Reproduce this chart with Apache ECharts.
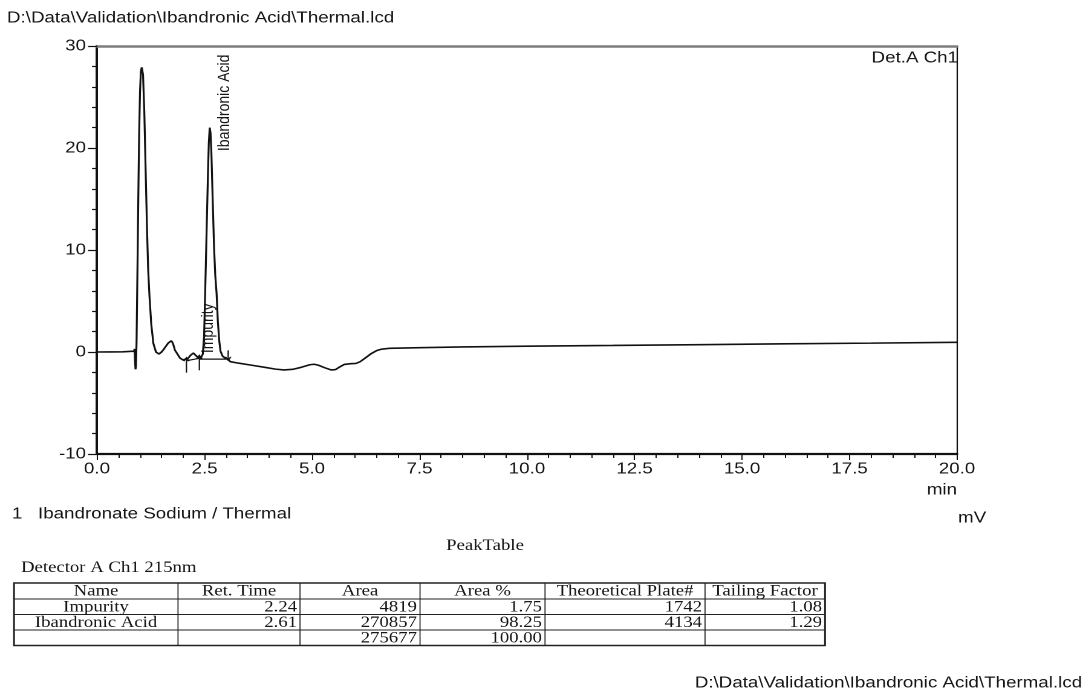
<!DOCTYPE html>
<html>
<head>
<meta charset="utf-8">
<title>Ibandronic Acid - Thermal</title>
<script src="https://cdn.jsdelivr.net/npm/echarts/dist/echarts.min.js"></script>
<style>
  html, body { margin: 0; padding: 0; background: #fff; overflow: hidden; }
  /* the report page is laid out on a narrower sheet and widened horizontally */
  #page { width: 898px; height: 698px; transform: scaleX(1.2094); transform-origin: 0 0; }
</style>
</head>
<body>
<div id="page"></div>
<script>
// ---- chromatogram (time in min, signal in mV) ----
const chromatogram = [
  [0.00, 0.00], [0.30, 0.01], [0.60, 0.02], [0.86, 0.08], [0.875, 0.30], [0.885, -1.00],
  [0.895, -1.70], [0.905, -1.40], [0.92, 1.00], [0.94, 8.00], [0.96, 15.00], [0.98, 21.50],
  [1.00, 25.50], [1.02, 27.50], [1.04, 27.90], [1.07, 27.20], [1.10, 23.50], [1.13, 18.00],
  [1.16, 12.50], [1.19, 8.00], [1.22, 5.50], [1.26, 2.80], [1.31, 0.85], [1.37, 0.00],
  [1.44, -0.20], [1.50, 0.00], [1.54, 0.20], [1.60, 0.55], [1.66, 0.90], [1.73, 1.10],
  [1.77, 0.80], [1.81, 0.20], [1.87, -0.20], [1.93, -0.60], [2.00, -0.78], [2.05, -0.85],
  [2.12, -0.60], [2.18, -0.30], [2.24, -0.10], [2.30, -0.35], [2.36, -0.60], [2.42, -0.55],
  [2.46, -0.20], [2.49, 1.50], [2.51, 5.00], [2.53, 8.50], [2.555, 13.00], [2.58, 17.50],
  [2.60, 20.50], [2.62, 22.00], [2.64, 21.50], [2.66, 19.50], [2.69, 15.00], [2.72, 10.50],
  [2.75, 7.50], [2.78, 5.80], [2.81, 3.00], [2.84, 1.20], [2.87, 0.10], [2.92, -0.40],
  [2.98, -0.60], [3.05, -0.72], [3.10, -0.95], [3.30, -1.10], [3.60, -1.30], [3.90, -1.50],
  [4.15, -1.68], [4.35, -1.76], [4.55, -1.70], [4.75, -1.50], [4.95, -1.25], [5.05, -1.20],
  [5.15, -1.30], [5.30, -1.55], [5.45, -1.76], [5.55, -1.72], [5.65, -1.45], [5.75, -1.22],
  [5.90, -1.15], [6.02, -1.12], [6.12, -0.95], [6.25, -0.55], [6.38, -0.15], [6.50, 0.13],
  [6.62, 0.28], [6.80, 0.36], [7.50, 0.42], [8.50, 0.50], [10.00, 0.57], [12.00, 0.64],
  [14.00, 0.72], [16.00, 0.80], [18.00, 0.87], [20.00, 0.95]
];

// ---- peak identification ----
const peakNames     = ['Impurity', 'Ibandronic Acid'];
const peakRetTimes  = [2.24, 2.61];
const peakAreas     = [4819, 270857];
const peakAreaPct   = ['1.75', '98.25'];
const peakPlates    = [1742, 4134];
const peakTailing   = ['1.08', '1.29'];
const totalArea     = 275677;
const totalAreaPct  = '100.00';

// integration events: [time, level, kind]  kind 1 = peak start, -1 = peak end
const integrationMarks = [[2.08, -0.85, 1], [2.38, -0.62, 1], [3.05, -0.72, -1]];
// drawn baselines: [t1, v1, t2, v2]
const baselineSegments = [[2.08, -0.85, 2.38, -0.62], [2.38, -0.70, 3.05, -0.70]];

// ---- axes ----
const timeMin = 0, timeMax = 20, timeStep = 2.5;
const mvMin = -10, mvMax = 30, mvStep = 10;

// ---- table text ----
const tableHeader = ['Name', 'Ret. Time', 'Area', 'Area %', 'Theoretical Plate#', 'Tailing Factor'];

const SX = 1086 / 898;               // horizontal widening of the page
const sx = x => x / SX;              // page x -> drawing x
const SANS = '"Liberation Sans", Arial, sans-serif';
const SERIF = '"Liberation Serif", "Times New Roman", serif';
const INK = '#151515';
const LABEL_LAG = 0.05;              // peak names sit on the trace just after the retention time

function signalAt(t) {
  for (let i = 1; i < chromatogram.length; i++) {
    const a = chromatogram[i - 1], b = chromatogram[i];
    if (t <= b[0]) return a[1] + (b[1] - a[1]) * (t - a[0]) / (b[0] - a[0]);
  }
  return chromatogram[chromatogram.length - 1][1];
}

// ---- peak table graphics ----
function buildTable() {
  const cols = [14, 178, 300, 420, 545, 705, 825].map(sx);
  const rows = [583, 599, 614.5, 630, 645.5];
  const body = peakNames.map((n, i) => [n, peakRetTimes[i].toFixed(2), String(peakAreas[i]),
    peakAreaPct[i], String(peakPlates[i]), peakTailing[i]]);
  body.push(['', '', String(totalArea), totalAreaPct, '', '']);
  const els = [];
  els.push({ type: 'rect', shape: { x: cols[0], y: rows[0], width: cols[6] - cols[0], height: rows[4] - rows[0] },
    style: { fill: null, stroke: '#222', lineWidth: 1.5 } });
  for (let r = 1; r < rows.length - 1; r++) {
    els.push({ type: 'line', shape: { x1: cols[0], y1: rows[r], x2: cols[6], y2: rows[r] },
      style: { stroke: '#222', lineWidth: 1 } });
  }
  for (let c = 1; c < cols.length - 1; c++) {
    els.push({ type: 'line', shape: { x1: cols[c], y1: rows[0], x2: cols[c], y2: rows[4] },
      style: { stroke: '#222', lineWidth: 0.9 } });
  }
  const cell = (txt, c, r, align) => ({
    type: 'text',
    x: align === 'center' ? (cols[c] + cols[c + 1]) / 2 : cols[c + 1] - sx(3),
    y: (rows[r] + rows[r + 1]) / 2 + 0.5,
    style: { text: txt, font: '15.5px ' + SERIF, fill: INK, align: align, verticalAlign: 'middle' }
  });
  tableHeader.forEach((h, c) => els.push(cell(h, c, 0, 'center')));
  body.forEach((row, r) => row.forEach((v, c) => {
    if (v !== '') els.push(cell(v, c, r + 1, c === 0 ? 'center' : 'right'));
  }));
  return els;
}

const textEl = (text, x, y, align, font) => ({
  type: 'text', x: x, y: y,
  style: { text: text, font: font || ('15.5px ' + SANS), fill: INK, align: align || 'left', verticalAlign: 'middle' }
});

const chart = echarts.init(document.getElementById('page'), null, { renderer: 'canvas', devicePixelRatio: 2 });

const option = {
  animation: false,
  backgroundColor: '#ffffff',
  grid: { left: sx(97), right: 898 - sx(957), top: 46, bottom: 244, containLabel: false },
  xAxis: [{
    type: 'value', min: timeMin, max: timeMax, interval: timeStep,
    axisLine: { show: true, onZero: false, lineStyle: { color: '#111', width: 2.2 } },
    axisTick: { show: true, length: 6, lineStyle: { color: '#111', width: 1 } },
    minorTick: { show: true, splitNumber: 5, length: 4, lineStyle: { color: '#111', width: 1 } },
    axisLabel: { show: true, formatter: v => v.toFixed(1), fontSize: 15.5, fontFamily: SANS, color: INK, margin: 7 },
    splitLine: { show: false }, minorSplitLine: { show: false }
  }, {
    type: 'value', position: 'top', min: timeMin, max: timeMax,
    axisLine: { show: true, onZero: false, lineStyle: { color: '#7d7d7d', width: 2.5 } },
    axisTick: { show: false }, axisLabel: { show: false }, splitLine: { show: false }
  }],
  yAxis: [{
    type: 'value', min: mvMin, max: mvMax, interval: mvStep,
    axisLine: { show: true, onZero: false, lineStyle: { color: '#111', width: 2 } },
    axisTick: { show: true, length: sx(9), lineStyle: { color: '#111', width: 1.2 } },
    minorTick: { show: true, splitNumber: 5, length: sx(5), lineStyle: { color: '#111', width: 1.2 } },
    axisLabel: { show: true, fontSize: 15.5, fontFamily: SANS, color: INK, margin: sx(11) },
    splitLine: { show: false }, minorSplitLine: { show: false }
  }, {
    type: 'value', position: 'right', min: mvMin, max: mvMax,
    axisLine: { show: true, onZero: false, lineStyle: { color: '#111', width: 1.1 } },
    axisTick: { show: false }, axisLabel: { show: false }, splitLine: { show: false }
  }],
  series: [{
    name: 'Det.A Ch1', type: 'line', data: chromatogram, showSymbol: false, symbol: 'none',
    smooth: false, clip: true, silent: true,
    lineStyle: { color: '#111', width: 1.6 }
  }, {
    // integration baselines
    type: 'custom', silent: true, clip: true,
    data: baselineSegments,
    renderItem: (params, api) => {
      const a = api.coord([api.value(0), api.value(1)]);
      const b = api.coord([api.value(2), api.value(3)]);
      return { type: 'line', shape: { x1: a[0], y1: a[1], x2: b[0], y2: b[1] },
        style: { stroke: '#111', lineWidth: 1.2 } };
    }
  }, {
    // peak start / end arrows
    type: 'custom', silent: true,
    data: integrationMarks,
    renderItem: (params, api) => {
      const p = api.coord([api.value(0), api.value(1)]);
      const kind = api.value(2);
      const w = 2.2, head = 3.5;
      const st = { stroke: '#111', lineWidth: 1.1, fill: null };
      if (kind > 0) {
        const tip = p[1] - 3;
        return { type: 'group', children: [
          { type: 'line', shape: { x1: p[0], y1: tip, x2: p[0], y2: tip + 15 }, style: st },
          { type: 'polyline', shape: { points: [[p[0] - w, tip + head], [p[0], tip], [p[0] + w, tip + head]] }, style: st }
        ] };
      }
      const tip = p[1] + 1;
      return { type: 'group', children: [
        { type: 'line', shape: { x1: p[0], y1: tip - 10, x2: p[0], y2: tip }, style: st },
        { type: 'polyline', shape: { points: [[p[0] - w, tip - head], [p[0], tip], [p[0] + w, tip - head]] }, style: st }
      ] };
    }
  }, {
    // peak names, written upward beside each peak
    type: 'custom', silent: true,
    data: peakRetTimes.map((t, i) => [t + LABEL_LAG, signalAt(t + LABEL_LAG), i]),
    renderItem: (params, api) => {
      const p = api.coord([api.value(0), api.value(1)]);
      return { type: 'text', x: p[0] + sx(13), y: p[1] - 2, rotation: Math.PI / 2,
        style: { text: peakNames[api.value(2)], font: '14px ' + SANS, fill: INK,
          align: 'left', verticalAlign: 'middle' } };
    }
  }],
  graphic: { elements: [
    textEl('D:\\Data\\Validation\\Ibandronic Acid\\Thermal.lcd', sx(7), 18),
    textEl('Det.A Ch1', sx(958), 58, 'right'),
    textEl('min', sx(957), 490, 'right'),
    textEl('mV', sx(958), 518, 'left'),
    textEl('1', sx(12), 514),
    textEl('Ibandronate Sodium / Thermal', sx(38), 514),
    textEl('PeakTable', sx(485), 546, 'center', '15.5px ' + SERIF),
    textEl('Detector A Ch1 215nm', sx(21), 568, 'left', '15.5px ' + SERIF),
    textEl('D:\\Data\\Validation\\Ibandronic Acid\\Thermal.lcd', sx(1082), 683, 'right')
  ].concat(buildTable()) }
};

chart.setOption(option);
</script>
</body>
</html>
